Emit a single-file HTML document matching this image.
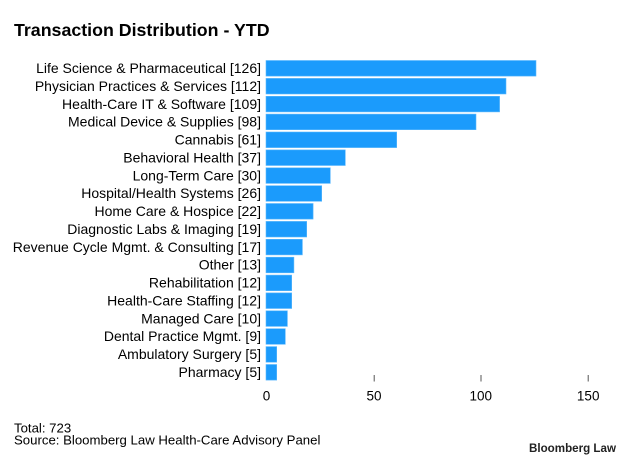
<!DOCTYPE html>
<html><head><meta charset="utf-8"><style>
html,body{margin:0;padding:0;background:#fff;}
svg{display:block;font-family:"Liberation Sans",Arial,sans-serif;}
</style></head><body>
<svg width="633" height="462" viewBox="0 0 633 462" xmlns="http://www.w3.org/2000/svg">
<rect width="633" height="462" fill="#fff"/>
<text x="14" y="36" font-size="17.8" font-weight="bold" fill="#000">Transaction Distribution - YTD</text>
<g fill="#1b9bfc" stroke="#5cb8fd" stroke-width="0.6">
<rect x="266" y="60.5" width="270" height="15.6"/>
<rect x="266" y="78.4" width="240" height="15.6"/>
<rect x="266" y="96.3" width="233.6" height="15.6"/>
<rect x="266" y="114.1" width="210" height="15.6"/>
<rect x="266" y="132" width="130.7" height="15.6"/>
<rect x="266" y="149.9" width="79.3" height="15.6"/>
<rect x="266" y="167.8" width="64.3" height="15.6"/>
<rect x="266" y="185.7" width="55.7" height="15.6"/>
<rect x="266" y="203.5" width="47.1" height="15.6"/>
<rect x="266" y="221.4" width="40.7" height="15.6"/>
<rect x="266" y="239.3" width="36.4" height="15.6"/>
<rect x="266" y="257.2" width="27.9" height="15.6"/>
<rect x="266" y="275.1" width="25.7" height="15.6"/>
<rect x="266" y="292.9" width="25.7" height="15.6"/>
<rect x="266" y="310.8" width="21.4" height="15.6"/>
<rect x="266" y="328.7" width="19.3" height="15.6"/>
<rect x="266" y="346.6" width="10.7" height="15.6"/>
<rect x="266" y="364.5" width="10.7" height="15.6"/>
</g>
<g font-size="14" fill="#000" text-anchor="end">
<text x="261" y="73">Life Science &amp; Pharmaceutical [126]</text>
<text x="261" y="90.9">Physician Practices &amp; Services [112]</text>
<text x="261" y="108.8">Health-Care IT &amp; Software [109]</text>
<text x="261" y="126.6">Medical Device &amp; Supplies [98]</text>
<text x="261" y="144.5">Cannabis [61]</text>
<text x="261" y="162.4">Behavioral Health [37]</text>
<text x="261" y="180.3">Long-Term Care [30]</text>
<text x="261" y="198.2">Hospital/Health Systems [26]</text>
<text x="261" y="216">Home Care &amp; Hospice [22]</text>
<text x="261" y="233.9">Diagnostic Labs &amp; Imaging [19]</text>
<text x="261" y="251.8">Revenue Cycle Mgmt. &amp; Consulting [17]</text>
<text x="261" y="269.7">Other [13]</text>
<text x="261" y="287.6">Rehabilitation [12]</text>
<text x="261" y="305.4">Health-Care Staffing [12]</text>
<text x="261" y="323.3">Managed Care [10]</text>
<text x="261" y="341.2">Dental Practice Mgmt. [9]</text>
<text x="261" y="359.1">Ambulatory Surgery [5]</text>
<text x="261" y="377">Pharmacy [5]</text>
</g>
<g stroke="#555" stroke-width="1">
<line x1="374.2" y1="375" x2="374.2" y2="381.5"/>
<line x1="481" y1="375" x2="481" y2="381.5"/>
<line x1="588.2" y1="375" x2="588.2" y2="381.5"/>
</g>
<g font-size="13.5" fill="#000" text-anchor="middle">
<text x="266.5" y="400.5">0</text>
<text x="374" y="400.5">50</text>
<text x="480.8" y="400.5">100</text>
<text x="588.2" y="400.5">150</text>
</g>
<text x="14" y="432.3" font-size="13.2" fill="#000">Total: 723</text>
<text x="14" y="444.5" font-size="13.2" fill="#000">Source: Bloomberg Law Health-Care Advisory Panel</text>
<text x="529" y="452" font-size="12" font-weight="bold" fill="#222" textLength="87" lengthAdjust="spacingAndGlyphs">Bloomberg Law</text>
</svg>
</body></html>
